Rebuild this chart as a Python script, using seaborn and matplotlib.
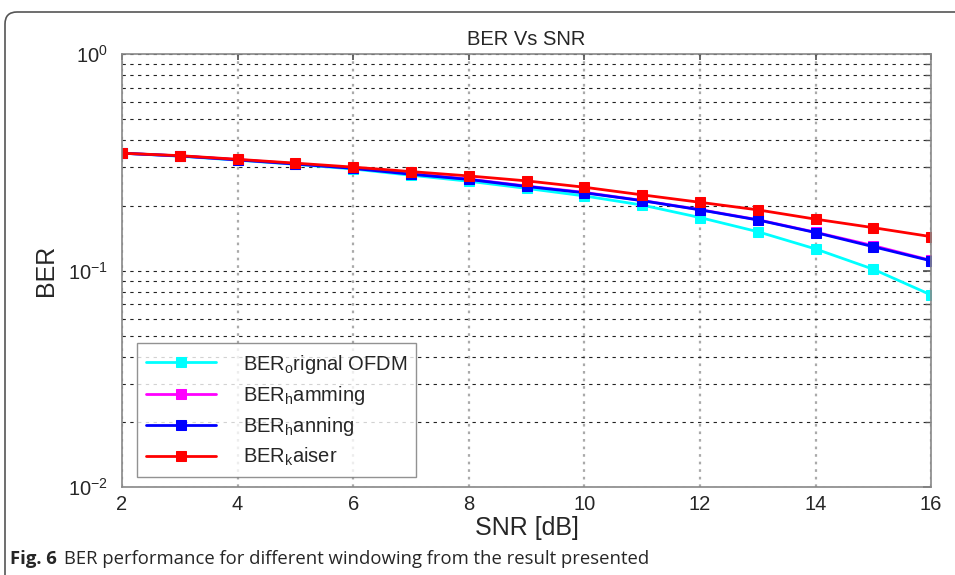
import numpy as np
import pandas as pd
import matplotlib
matplotlib.use("Agg")
import matplotlib.pyplot as plt
import seaborn as sns
from matplotlib.patches import FancyBboxPatch
from matplotlib.ticker import LogLocator, NullFormatter

snr = [2, 3, 4, 5, 6, 7, 8, 9, 10, 11, 12, 13, 14, 15, 16]
ber_original = [0.349, 0.338, 0.324, 0.310, 0.295, 0.276, 0.259, 0.240, 0.2215, 0.201, 0.176, 0.1514, 0.126, 0.1015, 0.0772]
ber_hamming = [0.349, 0.339, 0.326, 0.312, 0.298, 0.281, 0.265, 0.246, 0.230, 0.211, 0.1915, 0.172, 0.1505, 0.1305, 0.1115]
ber_hanning = [0.349, 0.339, 0.325, 0.311, 0.297, 0.279, 0.264, 0.245, 0.229, 0.2106, 0.191, 0.1715, 0.150, 0.129, 0.111]
ber_kaiser = [0.349, 0.340, 0.327, 0.314, 0.301, 0.287, 0.274, 0.260, 0.243, 0.224, 0.207, 0.191, 0.173, 0.158, 0.1436]

labels = ["BER$_\\mathregular{o}$rignal OFDM", "BER$_\\mathregular{h}$amming",
          "BER$_\\mathregular{h}$anning", "BER$_\\mathregular{k}$aiser"]
colors = ["#00ffff", "#ff00ff", "#0000ff", "#ff0000"]
series = [ber_original, ber_hamming, ber_hanning, ber_kaiser]

title = "BER Vs SNR"
xlabel = "SNR [dB]"
ylabel = "BER"
caption_bold = "Fig. 6"
caption = "BER performance for different windowing from the result presented"

sns.set_theme(style="white")
plt.rcParams["font.family"] = ["Liberation Sans", "DejaVu Sans"]
plt.rcParams["mathtext.fontset"] = "custom"
plt.rcParams["mathtext.rm"] = "Liberation Sans"
plt.rcParams["mathtext.it"] = "Liberation Sans"

fig = plt.figure(figsize=(9.55, 5.75), dpi=100)
ax = fig.add_axes([0.1277, 0.153, 0.8473, 0.7526])

for vals, lab, col in zip(series, labels, colors):
    sns.lineplot(x=snr, y=vals, ax=ax, color=col, marker="s", markersize=6.5,
                 markeredgecolor=col, linewidth=2, label=lab)

ax.set_yscale("log")
ax.set_xlim(2, 16)
ax.set_ylim(1e-2, 1)
ax.set_xticks([2, 4, 6, 8, 10, 12, 14, 16])
ax.yaxis.set_major_locator(LogLocator(base=10, numticks=5))
ax.yaxis.set_minor_locator(LogLocator(base=10, subs=np.arange(2, 10), numticks=20))
ax.yaxis.set_minor_formatter(NullFormatter())

ax.grid(True, which="both", axis="y", color="#222222", linestyle=(0, (3, 4)), linewidth=0.8)
ax.grid(True, which="major", axis="x", color="#aaaaaa", linestyle=(0, (1.2, 2.2)), linewidth=1.6)

ax.tick_params(axis="both", which="both", direction="in", top=True, right=True,
               color="#555555", labelsize=14.5, length=4)
ax.tick_params(axis="y", which="major", length=6, pad=10)
ax.tick_params(axis="x", which="major", pad=6)
for s in ax.spines.values():
    s.set_color("#888888")
    s.set_linewidth(1.2)

ax.set_title(title, fontsize=14.5, pad=7)
ax.set_xlabel(xlabel, fontsize=18, labelpad=1)
ax.set_ylabel(ylabel, fontsize=18, labelpad=7)

leg = ax.legend(loc="lower left", bbox_to_anchor=(0.0185, 0.023), borderaxespad=0,
                fontsize=14.5, handlelength=3.5, handletextpad=1.3, frameon=True,
                fancybox=False, borderpad=0.45, labelspacing=0.4)
leg.get_frame().set_edgecolor("#777777")
leg.get_frame().set_linewidth(1.0)

# card border
card = FancyBboxPatch((5, -60), 1100, 575 - 12 + 60, boxstyle="round,pad=0,rounding_size=12",
                      transform=None, facecolor="none", edgecolor="#555555", linewidth=1.2,
                      clip_on=False)
fig.patches.append(card)

fig.text(10 / 955, 1 - 559 / 575, caption_bold, fontsize=13.3, fontweight="bold",
         family=["Open Sans", "DejaVu Sans"], va="center", ha="left")
fig.text(64 / 955, 1 - 559 / 575, caption, fontsize=13.3,
         family=["Open Sans", "DejaVu Sans"], va="center", ha="left")

fig.savefig("out.png", dpi=100)
